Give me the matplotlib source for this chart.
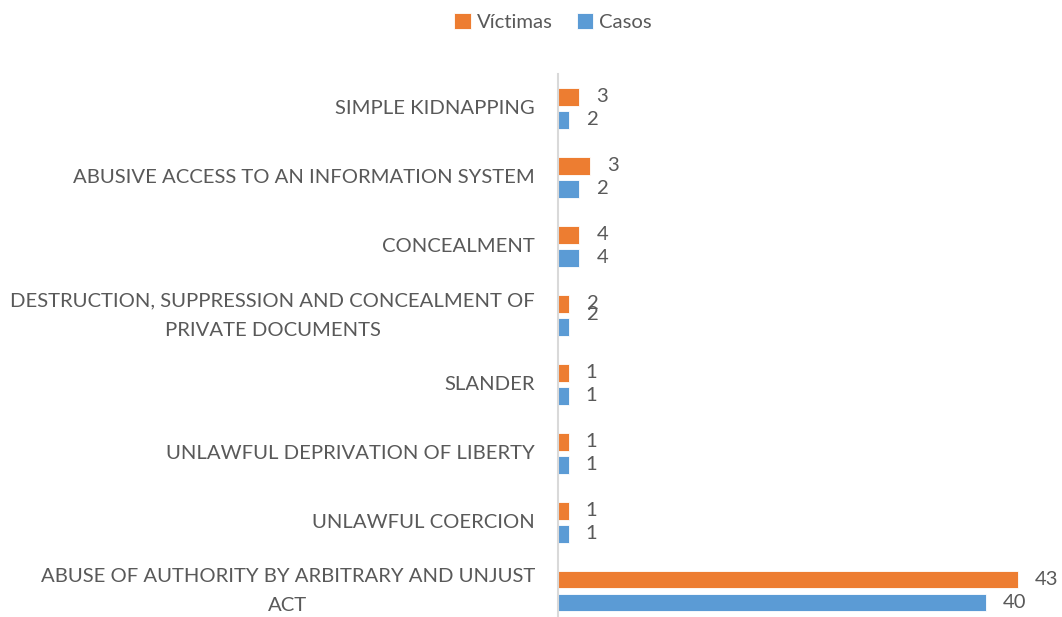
import matplotlib
matplotlib.use('Agg')
import matplotlib.pyplot as plt
from matplotlib.transforms import offset_copy

plt.rcParams['font.family'] = ['Lato', 'DejaVu Sans']

# Categories, bottom to top
categories = [
    'ABUSE OF AUTHORITY BY ARBITRARY AND UNJUST\nACT',
    'UNLAWFUL COERCION',
    'UNLAWFUL DEPRIVATION OF LIBERTY',
    'SLANDER',
    'DESTRUCTION, SUPPRESSION AND CONCEALMENT OF\nPRIVATE DOCUMENTS',
    'CONCEALMENT',
    'ABUSIVE ACCESS TO AN INFORMATION SYSTEM',
    'SIMPLE KIDNAPPING',
]
# bar lengths as drawn in the original
victimas = [43, 1, 1, 1, 1, 2, 3, 2]
casos = [40, 1, 1, 1, 1, 2, 2, 1]
# value labels as printed in the original
victimas_labels = ['43', '1', '1', '1', '2', '4', '3', '3']
casos_labels = ['40', '1', '1', '1', '2', '4', '2', '2']

ORANGE = '#ED7D31'
BLUE = '#5B9BD5'
TEXT = '#595959'
FS = 14.6

W, H = 1062, 617
fig = plt.figure(figsize=(W / 100, H / 100), dpi=100)
ax = fig.add_axes([558 / W, 0, 492 / W, 1 - 74 / H])

y = list(range(len(categories)))
off = 0.167
bh = 0.26
ax.barh([v + off for v in y], victimas, height=bh, color=ORANGE,
        edgecolor='white', linewidth=0.6, label='Víctimas')
ax.barh([v - off for v in y], casos, height=bh, color=BLUE,
        edgecolor='white', linewidth=0.6, label='Casos')

ax.set_xlim(0, 46)
ax.set_ylim(-0.377, 7.5)

# value labels, with the overlapping pair nudged like the source
nudge = {4: 12}
for i in y:
    t1 = offset_copy(ax.transData, fig=fig, x=17, y=0, units='dots')
    ax.text(victimas[i], i + off, victimas_labels[i], transform=t1,
            va='center', ha='left', fontsize=FS, color=TEXT)
    t2 = offset_copy(ax.transData, fig=fig, x=17, y=nudge.get(i, 0), units='dots')
    ax.text(casos[i], i - off, casos_labels[i], transform=t2,
            va='center', ha='left', fontsize=FS, color=TEXT)

ax.set_yticks(y)
ax.set_yticklabels(categories, fontsize=FS, color=TEXT, ha='center',
                   multialignment='center')
ax.tick_params(axis='y', length=0, pad=23)
ax.set_xticks([])

for side in ['top', 'right', 'bottom']:
    ax.spines[side].set_visible(False)
ax.spines['left'].set_color('#D9D9D9')
ax.spines['left'].set_linewidth(1.5)

fig.canvas.draw()
# right-align the label blocks against the axis while keeping the lines centred
r = fig.canvas.get_renderer()
for lab in ax.get_yticklabels():
    lab.set_linespacing(1.9)
    lab.set_verticalalignment('center')
    bb = lab.get_window_extent(r)
    x0 = 535 - bb.width / 2
    lab.set_x(0)
    lab.set_transform(offset_copy(ax.get_yaxis_transform(), fig=fig,
                                  x=x0 - 558, y=0, units='dots'))

handles, labels = ax.get_legend_handles_labels()
fig.legend(handles, labels, loc='center', bbox_to_anchor=(553 / W, 1 - 22 / H),
           ncol=2, frameon=False, fontsize=FS, labelcolor=TEXT,
           handlelength=0.8, handleheight=0.8, handletextpad=0.3, columnspacing=1.2)

fig.savefig('out.png', dpi=100)
